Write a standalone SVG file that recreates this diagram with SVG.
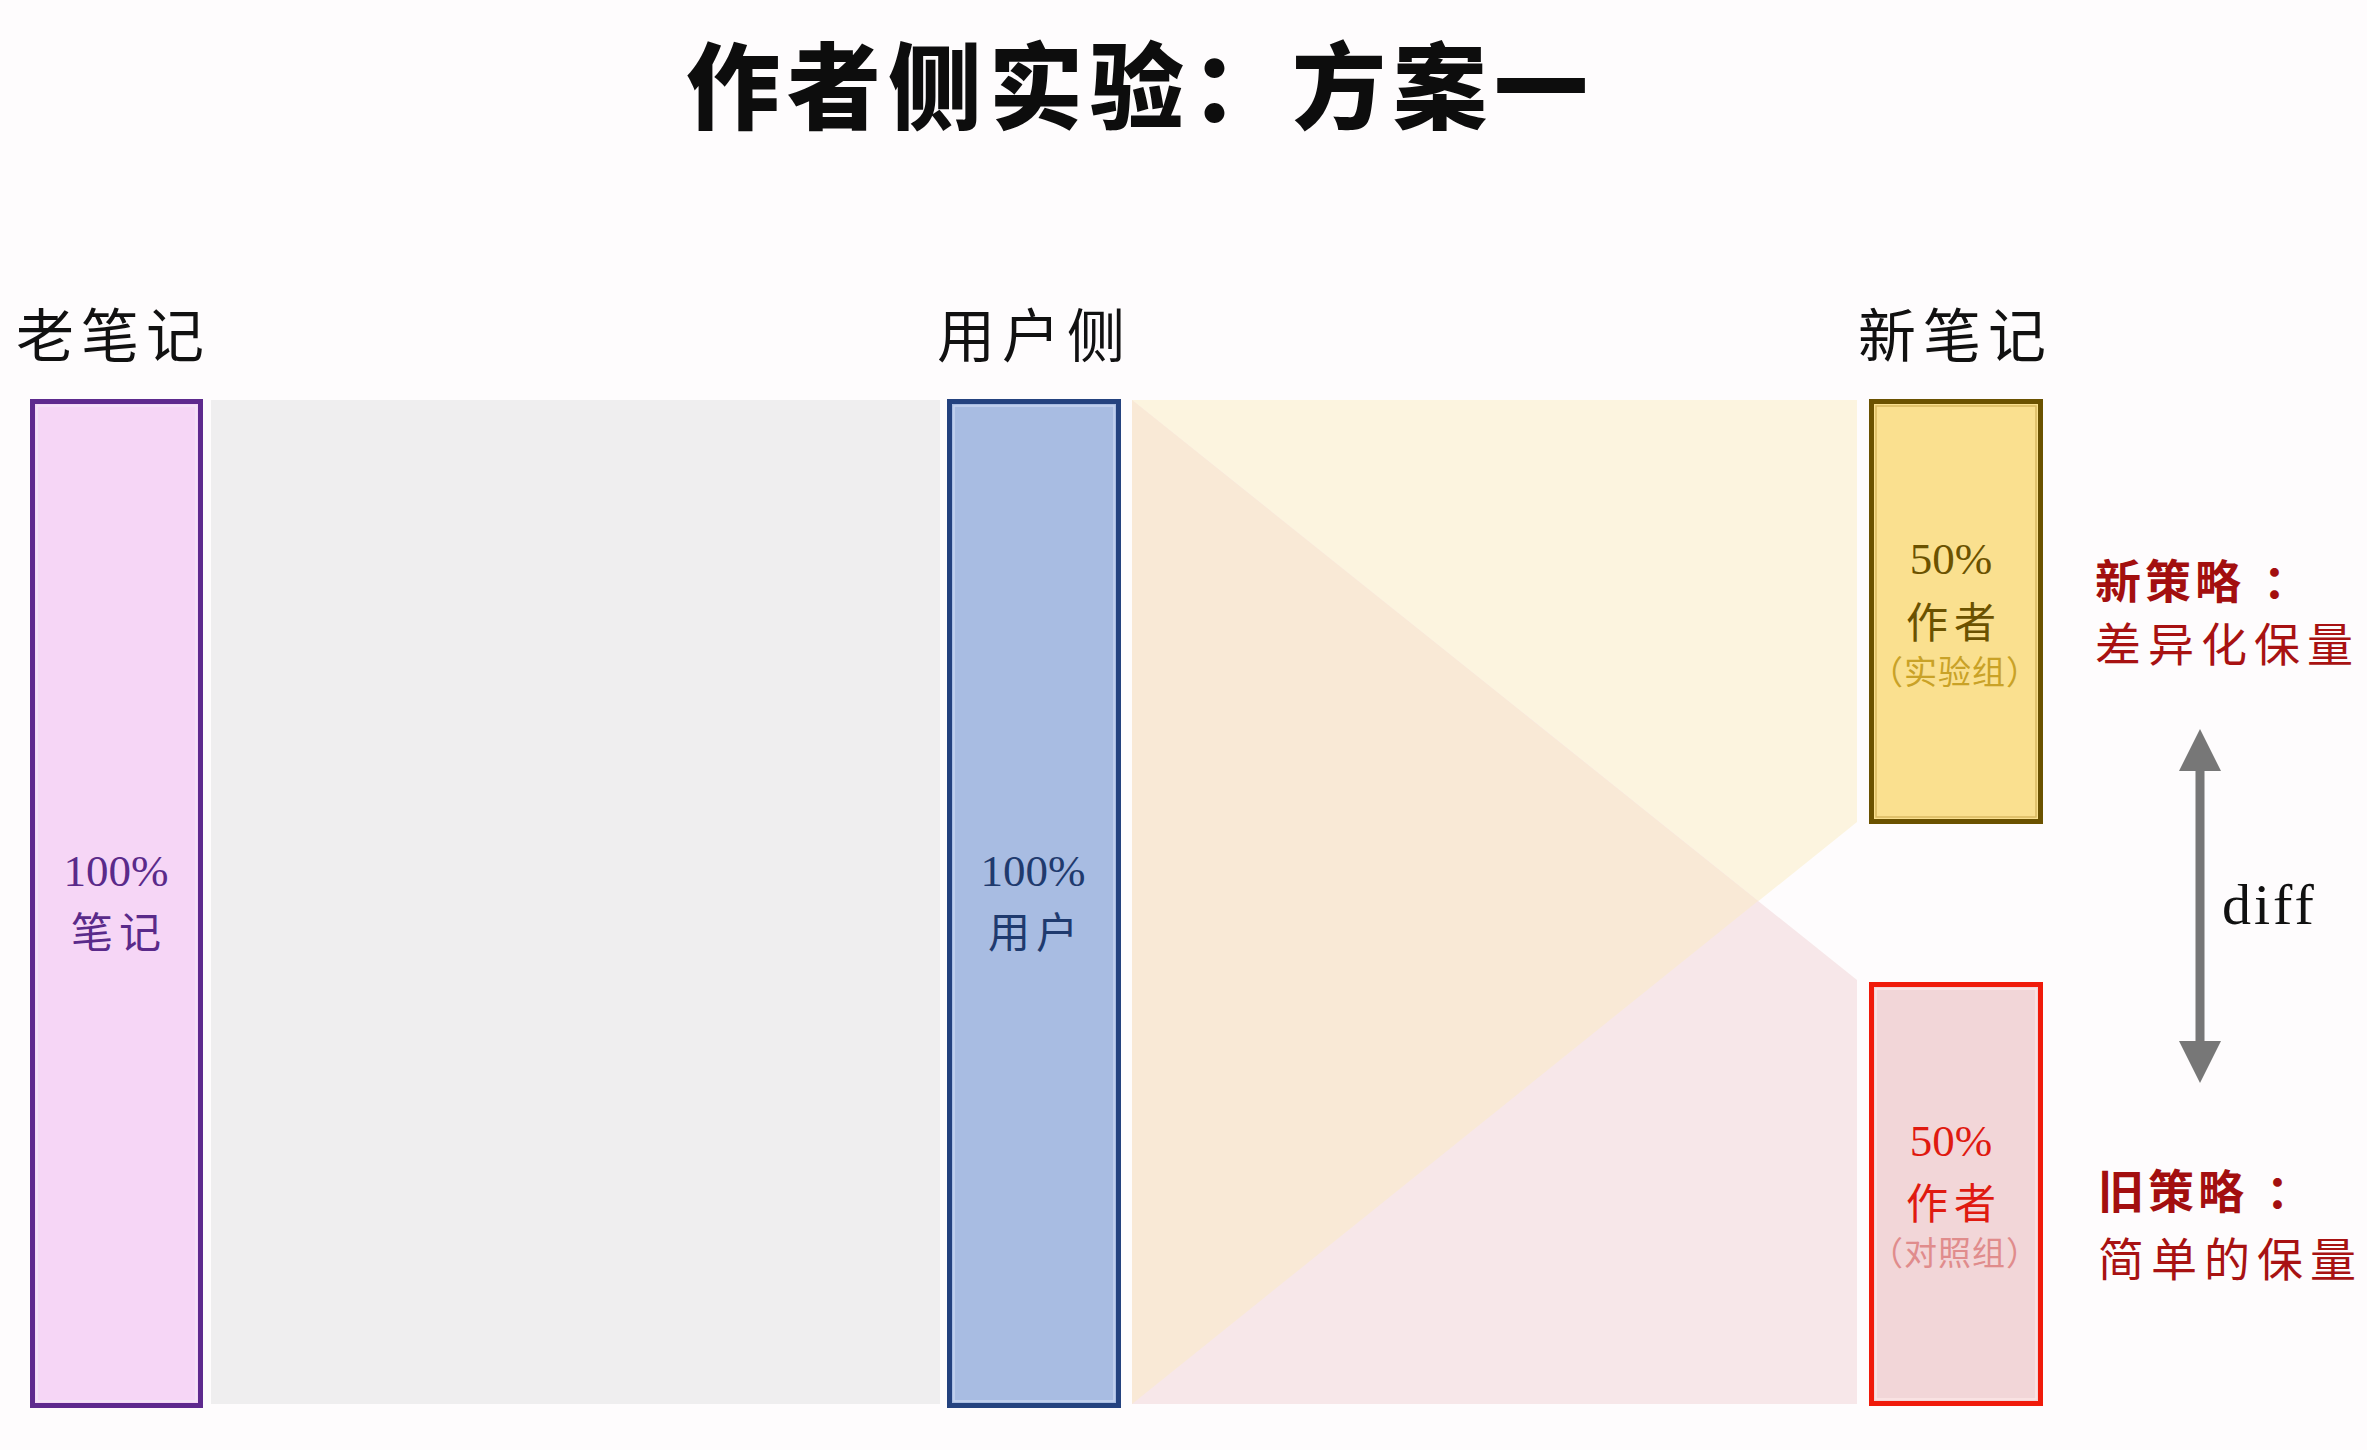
<svg xmlns="http://www.w3.org/2000/svg" width="2367" height="1450" viewBox="0 0 2367 1450">
  <defs>
    <style>
      .cjk { font-family: "Noto Sans CJK SC", "Noto Sans", sans-serif; }
      .num { font-family: "Liberation Serif", "DejaVu Serif", serif; }
      .title { font-size: 94px; font-weight: 900; fill: #0d0d0d; letter-spacing: 7px; }
      .head { font-size: 58px; font-weight: 400; fill: #111; letter-spacing: 7px; }
      .pct { font-size: 45px; text-anchor: middle; }
      .lbl { font-size: 42px; text-anchor: middle; letter-spacing: 6px; }
      .sub { font-size: 33px; text-anchor: middle; letter-spacing: 1px; }
      .strat { font-size: 46px; font-weight: 700; fill: #a30f0f; letter-spacing: 4px; }
      .stratd { font-size: 46px; font-weight: 400; fill: #a81212; letter-spacing: 7px; }
      .flow { stroke: none; }
    </style>
    <marker id="ah" viewBox="0 0 42 42" markerUnits="userSpaceOnUse" markerWidth="42" markerHeight="42" refX="0" refY="21" orient="auto-start-reverse">
      <path d="M0,0 L42,21 L0,42 Z" fill="#777777"/>
    </marker>
  </defs>

  <rect x="0" y="0" width="2367" height="1450" fill="#fefcfd"/>

  <text class="cjk title" x="686" y="122">作者侧实验：方案一</text>

  <g id="connectors">
    <polygon class="flow" points="211,400 940,400 940,1404 211,1404" fill="#efeeef"/>
    <polygon class="flow" points="1132,400 1857,400 1857,822 1132,1404" fill="#fcf4df"/>
    <polygon class="flow" points="1132,400 1857,980 1857,1404 1132,1404" fill="#f7e7e9"/>
    <polygon class="flow" points="1132,400 1758,901 1132,1404" fill="#f9e9d6"/>
    <line x1="2200" y1="771" x2="2200" y2="1041" stroke="#777777" stroke-width="9" marker-start="url(#ah)" marker-end="url(#ah)"/>
    <text class="num" x="2222" y="924" font-size="58" letter-spacing="3" fill="#111">diff</text>
  </g>

  <g id="node-old-notes">
    <text class="cjk head" x="16" y="357">老笔记</text>
    <rect x="32.5" y="401.5" width="168" height="1004" fill="#f6d6f6" stroke="#5e2a8e" stroke-width="5"/>
    <rect x="37" y="406" width="159" height="995" fill="none" stroke="#f3e6f7" stroke-width="1.5"/>
    <text class="num pct" x="116" y="886" fill="#5a2a8a">100%</text>
    <text class="cjk lbl" x="119" y="948" fill="#5a2a8a">笔记</text>
  </g>

  <g id="node-users">
    <text class="cjk head" x="937" y="357">用户侧</text>
    <rect x="949.5" y="401.5" width="169" height="1004" fill="#a8bce2" stroke="#24427f" stroke-width="5"/>
    <rect x="954" y="406" width="160" height="995" fill="none" stroke="#c6d4f0" stroke-width="1.5"/>
    <text class="num pct" x="1033" y="886" fill="#1f3a6e">100%</text>
    <text class="cjk lbl" x="1036" y="948" fill="#1f3a6e">用户</text>
  </g>

  <g id="node-new-exp">
    <text class="cjk head" x="1858" y="357">新笔记</text>
    <rect x="1871.5" y="401.5" width="169" height="420" fill="#fae08f" stroke="#6b5200" stroke-width="5"/>
    <rect x="1876" y="406" width="160" height="411" fill="none" stroke="#d8b860" stroke-width="1.5"/>
    <text class="num pct" x="1951" y="574" fill="#6b5200">50%</text>
    <text class="cjk lbl" x="1954" y="638" font-size="46" fill="#6b5200">作者</text>
    <text class="cjk sub" x="1955" y="684" fill="#c9a227">（实验组）</text>
  </g>

  <g id="node-new-ctrl">
    <rect x="1871.5" y="984.5" width="169" height="419" fill="#f2d6d8" stroke="#f01a0a" stroke-width="5"/>
    <rect x="1876" y="989" width="160" height="410" fill="none" stroke="#fbe6e6" stroke-width="1.5"/>
    <text class="num pct" x="1951" y="1156" fill="#e01a10">50%</text>
    <text class="cjk lbl" x="1954" y="1219" font-size="46" fill="#e01a10">作者</text>
    <text class="cjk sub" x="1955" y="1265" fill="#e08c8c">（对照组）</text>
  </g>

  <g id="strategy-new">
    <text class="cjk strat" x="2095" y="598">新策略<tspan dx="18">：</tspan></text>
    <text class="cjk stratd" x="2095" y="661">差异化保量</text>
  </g>

  <g id="strategy-old">
    <text class="cjk strat" x="2098" y="1208">旧策略<tspan dx="18">：</tspan></text>
    <text class="cjk stratd" x="2098" y="1276">简单的保量</text>
  </g>
</svg>
